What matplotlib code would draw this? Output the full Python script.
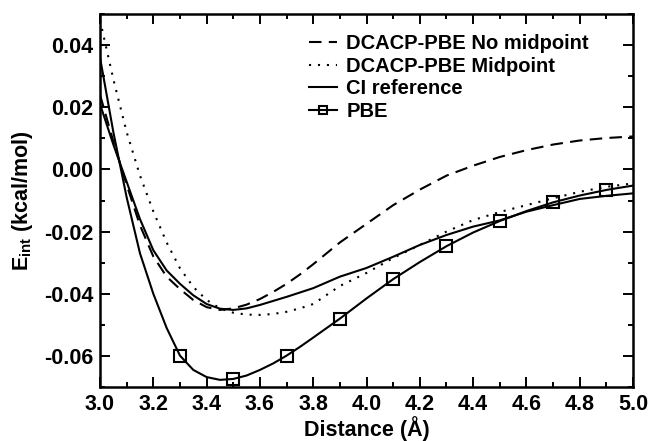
import numpy as np
import matplotlib
matplotlib.use("Agg")
import matplotlib.pyplot as plt
from matplotlib.ticker import MultipleLocator, FormatStrFormatter

plt.rcParams['font.family'] = ['Liberation Sans', 'DejaVu Sans']
plt.rcParams['font.weight'] = 'bold'
plt.rcParams['axes.unicode_minus'] = False
plt.rcParams['mathtext.fontset'] = 'custom'
plt.rcParams['mathtext.rm'] = 'Liberation Sans:bold'
plt.rcParams['mathtext.it'] = 'Liberation Sans:bold'

# distance grid (Angstrom): finer near the well
dist = [3.0, 3.05, 3.1, 3.15, 3.2, 3.25, 3.3, 3.35, 3.4, 3.45, 3.5, 3.55,
        3.6, 3.65, 3.7, 3.75, 3.8, 3.9, 4.0, 4.1, 4.2, 4.3, 4.4, 4.5,
        4.6, 4.7, 4.8, 4.9, 5.0]

# interaction energies (kcal/mol)
no_mid = [0.024, 0.009, -0.005, -0.018, -0.028, -0.0345, -0.0385, -0.0420,
          -0.0443, -0.0452, -0.0447, -0.0435, -0.0417, -0.0394, -0.0368,
          -0.0338, -0.0305, -0.0235, -0.0175, -0.0115, -0.0065, -0.0020,
          0.0012, 0.0040, 0.0062, 0.0080, 0.0093, 0.0101, 0.0106]
mid = [0.048, 0.029, 0.012, -0.002, -0.0135, -0.0235, -0.0318, -0.0378,
       -0.0420, -0.0447, -0.0461, -0.0467, -0.0468, -0.0465, -0.0458,
       -0.0447, -0.0433, -0.0375, -0.0333, -0.0285, -0.0243, -0.0200,
       -0.0163, -0.0137, -0.0115, -0.0093, -0.0072, -0.0056, -0.0045]
ci_ref = [0.021, 0.008, -0.004, -0.016, -0.026, -0.0325, -0.0368, -0.0405,
          -0.0433, -0.0448, -0.0452, -0.0447, -0.0436, -0.0423, -0.0410,
          -0.0396, -0.0382, -0.0345, -0.0317, -0.0281, -0.0243, -0.0211,
          -0.0184, -0.0164, -0.0136, -0.0115, -0.0095, -0.0085, -0.0077]
pbe = [0.036, 0.012, -0.009, -0.027, -0.040, -0.051, -0.0599, -0.0645,
       -0.0668, -0.0677, -0.0674, -0.0663, -0.0645, -0.0624, -0.0599,
       -0.0571, -0.0541, -0.0480, -0.0415, -0.0353, -0.0298, -0.0247,
       -0.0203, -0.0166, -0.0134, -0.0106, -0.0084, -0.0066, -0.0052]

# PBE symbols sit at 3.3, 3.5, ..., 4.9
pbe_marks = [dist.index(d) for d in (3.3, 3.5, 3.7, 3.9, 4.1, 4.3, 4.5, 4.7, 4.9)]

fig = plt.figure(figsize=(6.52, 4.41), dpi=100)
ax = fig.add_axes([0.1534, 0.1224, 0.8175, 0.8459])

lw = 1.5
ax.plot(dist, no_mid, color='black', lw=lw, dashes=(6, 3.5),
        label='DCACP-PBE No midpoint')
ax.plot(dist, mid, color='black', lw=lw, dashes=(1, 3.3),
        label='DCACP-PBE Midpoint')
ax.plot(dist, ci_ref, color='black', lw=lw, label='CI reference')
ax.plot(dist, pbe, color='black', lw=lw, marker='s', markersize=8,
        markerfacecolor='none', markeredgewidth=1.5, markevery=pbe_marks,
        label='PBE')

ax.set_xlim(3.0, 5.0)
ax.set_ylim(-0.07, 0.05)
ax.xaxis.set_major_locator(MultipleLocator(0.2))
ax.xaxis.set_minor_locator(MultipleLocator(0.1))
ax.yaxis.set_major_locator(MultipleLocator(0.02))
ax.yaxis.set_minor_locator(MultipleLocator(0.01))
ax.xaxis.set_major_formatter(FormatStrFormatter('%.1f'))
ax.yaxis.set_major_formatter(FormatStrFormatter('%.2f'))

ax.tick_params(which='both', direction='in', top=True, right=True,
               labelsize=15.5, width=1.4)
ax.tick_params(which='major', length=7.5, pad=5)
ax.tick_params(which='minor', length=3.8)
for sp in ax.spines.values():
    sp.set_linewidth(1.8)

ax.set_xlabel('Distance (Å)', fontsize=15.5, fontweight='bold', labelpad=0.5)
ax.set_ylabel(r'E$_{\mathrm{int}}$ (kcal/mol)', fontsize=15.5,
              fontweight='bold', labelpad=6)

ax.legend(loc='upper left', bbox_to_anchor=(0.474, 0.923),
          bbox_transform=fig.transFigure, frameon=False, fontsize=14.5,
          handlelength=1.4, handletextpad=0.45, labelspacing=0.18,
          borderpad=0, borderaxespad=0, numpoints=1, markerscale=0.8)

fig.savefig('out.png', dpi=100)
